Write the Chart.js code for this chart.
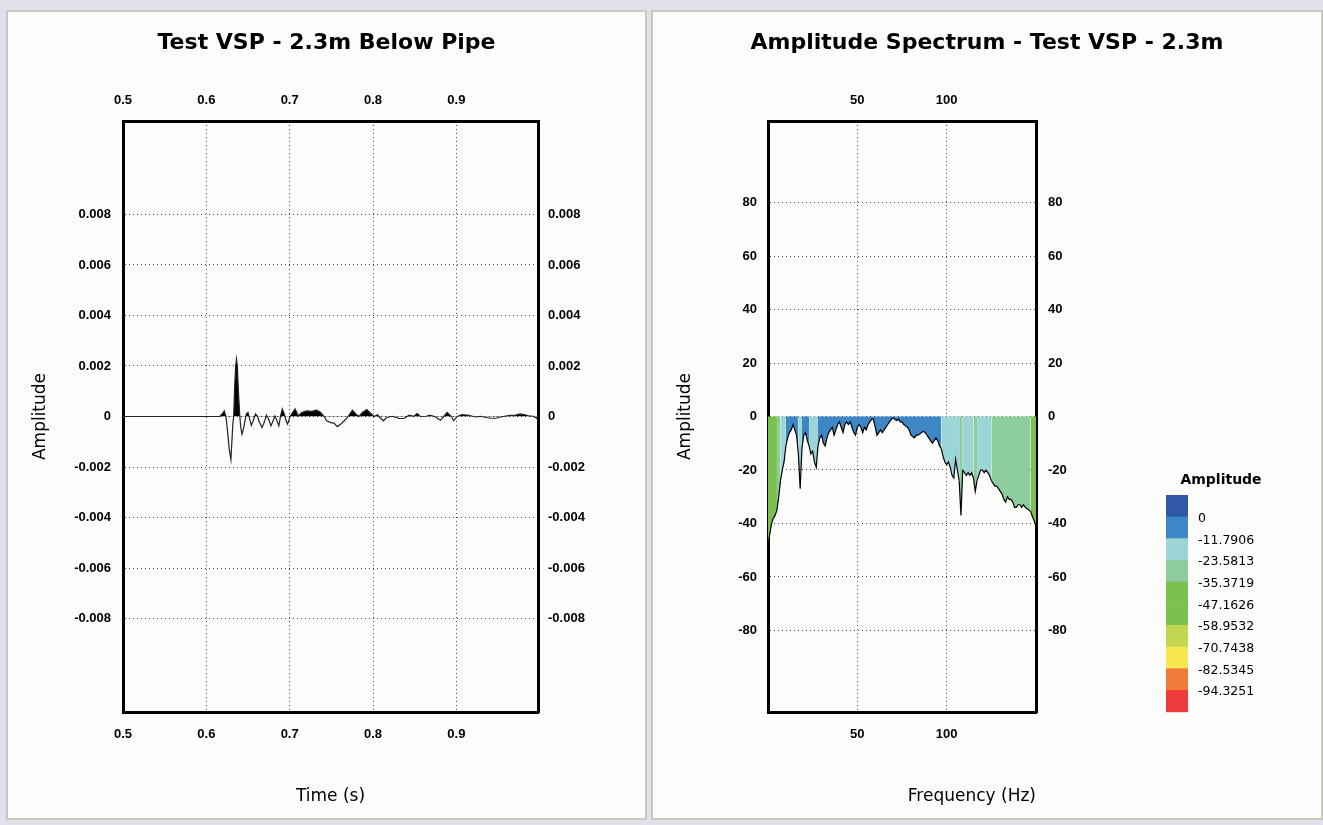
<!DOCTYPE html>
<html>
<head>
<meta charset="utf-8">
<title>Test VSP - 2.3m</title>
<script src="https://cdn.jsdelivr.net/npm/chart.js@4.4.1/dist/chart.umd.min.js"></script>
<style>
  html, body { margin: 0; padding: 0; }
  body { width: 1323px; height: 825px; background: #dfe0ec; position: relative; overflow: hidden; }
  .panel { position: absolute; top: 10px; height: 806px; background: #fcfcfa; border: 2px solid #c8c8bf; }
  #leftPanel { left: 6px; width: 637px; }
  #rightPanel { left: 651px; width: 668px; }
  .panel canvas { display: block; }
</style>
</head>
<body>
<div class="panel" id="leftPanel"><canvas id="traceChart" width="637" height="806"></canvas></div>
<div class="panel" id="rightPanel"><canvas id="specChart" width="668" height="806"></canvas></div>
<script>
// ---- trace: time (s) vs amplitude ----
const traceTime = [
  0.5, 0.616, 0.619, 0.6215, 0.6235, 0.6255, 0.6275, 0.6295, 0.6305, 0.6318,
  0.6328, 0.634, 0.6352, 0.6362, 0.6372, 0.6385, 0.64, 0.6412, 0.6428, 0.6445,
  0.6462, 0.648, 0.65, 0.652, 0.654, 0.6565, 0.659, 0.6612, 0.664, 0.6668,
  0.6694, 0.6722, 0.675, 0.6775, 0.6798, 0.6822, 0.6845, 0.687, 0.6893, 0.6912,
  0.6935, 0.6955, 0.6975, 0.7005, 0.7065, 0.7105, 0.7145, 0.7205, 0.7265, 0.7325,
  0.7373, 0.7413, 0.7445, 0.7493, 0.753, 0.7573, 0.7613, 0.7661, 0.7701, 0.7753,
  0.7793, 0.7833, 0.7873, 0.7925, 0.7973, 0.8013, 0.8053, 0.8093, 0.8125, 0.8165,
  0.8233, 0.8313, 0.8373, 0.8433, 0.849, 0.8529, 0.8569, 0.864, 0.8681, 0.874,
  0.8809, 0.8849, 0.8889, 0.894, 0.8969, 0.9009, 0.9069, 0.9149, 0.9229, 0.9293,
  0.9353, 0.9413, 0.9473, 0.9533, 0.9645, 0.9705, 0.9765, 0.9825, 0.9865, 0.9925,
  0.9965, 0.998
];
const traceAmp = [
  0, 0, 0.0001, 0.00022, 0, -0.0006, -0.0013, -0.0017, -0.0011, -0.0003,
  0, 0.0012, 0.002, 0.00228, 0.002, 0.001, 0.0001, -0.0004, -0.0007, -0.0005,
  -0.0002, 0.0001, 0.00016, -0.0001, -0.00035, -0.00015, 0.0001, 0.00002, -0.00025, -0.00044,
  -0.00024, 0.00005, -0.00013, -0.00037, -0.0002, 0.00002, -0.00015, -0.00037, 0.00005, 0.0003,
  0.0001, -0.00015, -0.0003, 0, 0.0003, 0.00002, 0.00016, 0.00022, 0.0002, 0.00025,
  0.00016, 0, -0.00017, -0.00024, -0.00026, -0.0004, -0.0003, -0.00015, 0, 0.00025,
  0.0001, 0, 0.00016, 0.00028, 0.00012, 0, 0.00007, -0.00007, -0.00017, -0.00004,
  0.00001, -0.00008, -0.00008, 0.00005, 0.00001, 0.00012, 0, 0.00001, 0.00005, 0,
  -0.00015, 0, 0.00016, 0, -0.00017, 0, 0.00007, 0.00005, -0.00002, 0.00001,
  -0.00004, -0.00007, -0.00007, -0.00002, 0.00005, 0.00005, 0.0001, 0.00007, 0.00003, 0.00001,
  -0.00007, 0.00006
];
const timeTicks = [0.5, 0.6, 0.7, 0.8, 0.9];
const ampTicks = [-0.008, -0.006, -0.004, -0.002, 0, 0.002, 0.004, 0.006, 0.008];

// ---- spectrum: frequency (Hz) vs amplitude (dB) ----
const freqHz = [
  0, 1, 2, 3, 4, 5, 6, 7, 8, 9, 10, 11, 12, 13, 14, 15, 16, 17, 18, 19,
  20, 21, 22, 23, 24, 25, 26, 27, 28, 29, 30, 31, 32, 33, 34, 35, 36, 37, 38, 39,
  40, 41, 42, 43, 44, 45, 46, 47, 48, 49, 50, 51, 52, 53, 54, 55, 56, 57, 58, 59,
  60, 61, 62, 63, 64, 65, 66, 67, 68, 69, 70, 71, 72, 73, 74, 75, 76, 77, 78, 79,
  80, 81, 82, 83, 84, 85, 86, 87, 88, 89, 90, 91, 92, 93, 94, 95, 96, 97, 98, 99,
  100, 101, 102, 103, 104, 105, 106, 107, 108, 109, 110, 111, 112, 113, 114, 115, 116, 117, 118, 119,
  120, 121, 122, 123, 124, 125, 126, 127, 128, 129, 130, 131, 132, 133, 134, 135, 136, 137, 138, 139,
  140, 141, 142, 143, 144, 145, 146, 147, 148, 149, 150
];
const specDb = [
  -48, -44, -40, -38, -37, -35, -30, -24, -20, -17, -11, -8, -6, -5, -3, -5, -7, -14, -27, -12,
  -7, -6, -9, -11, -14, -13, -17, -19, -11, -8, -7, -10, -11, -8, -6, -5, -4, -7, -5, -3,
  -2, -4, -6, -3, -2, -3, -2, -4, -6, -7, -4, -3, -4, -6, -4, -5, -3, -2, -1, -1,
  -4, -7, -6, -5, -6, -5, -4, -3, -2, -1, -0.5, -1, -1.5, -1, -2, -2, -3, -3.5, -4, -5,
  -7, -7.5, -8, -7, -7, -6.5, -6, -5.5, -6, -7, -8, -9, -10, -9, -8, -9, -11, -12, -15, -17,
  -18, -17, -19, -22, -23, -16, -20, -24, -37, -20, -21, -22, -21, -22, -21, -23, -28, -24, -22, -20,
  -20, -21, -20, -21, -22, -24, -25, -26, -26, -27, -28, -29, -31, -32, -30, -31, -31, -32, -34, -34,
  -33, -33, -34, -33, -34, -34.5, -35, -35.5, -37.5, -39, -41
];
const freqTicks = [50, 100];
const dbTicks = [-80, -60, -40, -20, 0, 20, 40, 60, 80];

// colour classes of the amplitude legend
const bandLabels = ['0', '-11.7906', '-23.5813', '-35.3719', '-47.1626', '-58.9532', '-70.7438', '-82.5345', '-94.3251'];
const bandEdges = [0, -11.7906, -23.5813, -35.3719, -47.1626, -58.9532, -70.7438, -82.5345, -94.3251];
const bandColors = ['#2f59a7', '#3d87c7', '#9bd5d5', '#8dcd9d', '#7cc14f', '#7cc14f', '#c3d651', '#f7e74f', '#f07a38', '#ee3a3a'];

const FONT = '"Liberation Sans", Arial, sans-serif';
const WIDE = '"DejaVu Sans", sans-serif';
const tickFont = { family: FONT, size: 13, weight: 'bold' };

function bandColor(v) {
  for (let i = 0; i < bandEdges.length; i++) {
    if (v > bandEdges[i]) return bandColors[i];
  }
  return bandColors[bandColors.length - 1];
}

// fixes the thickness of an axis box so the plot frame lands where the original had it
function fixSize(prop, px) {
  return s => {
    s[prop] = px;
    s.paddingLeft = s.paddingRight = s.paddingTop = s.paddingBottom = 0;
  };
}

function useTicks(list) {
  return s => { s.ticks = list.map(v => ({ value: v })); };
}

function axis(pos, min, max, list, fmt, size, grid, pad) {
  const horiz = pos === 'top' || pos === 'bottom';
  return {
    type: 'linear',
    position: pos,
    min: min,
    max: max,
    afterBuildTicks: useTicks(list),
    afterFit: fixSize(horiz ? 'height' : 'width', size),
    grid: { display: grid, color: '#444', lineWidth: 1, drawTicks: false },
    border: { display: true, color: '#000', width: 3, dash: [1, 3] },
    ticks: { color: '#000', font: tickFont, padding: pad, callback: fmt, maxRotation: 0, autoSkip: false }
  };
}

const fmtAmp = v => Math.abs(v) < 1e-9 ? '0' : v.toFixed(3);
const fmtTime = v => v.toFixed(1);
const fmtInt = v => String(Math.round(v));

function yTitle(text) {
  return { display: true, text: text, color: '#000', font: { family: WIDE, size: 17 }, padding: { top: 22, bottom: 0 } };
}

function xTitle(text, align) {
  return { display: true, text: text, align: align, color: '#000', font: { family: WIDE, size: 17 }, padding: { top: 0, bottom: 11 } };
}

function plugins(title) {
  return {
    legend: { display: false },
    tooltip: { enabled: false },
    title: { display: true, text: title, color: '#000', font: { family: WIDE, size: 22, weight: 'bold' }, padding: { top: 18, bottom: 0 } }
  };
}

// colour bar legend at the right of the spectrum
const bandLegend = {
  id: 'bandLegend',
  afterDraw(chart) {
    const ctx = chart.ctx;
    const x0 = 513, y0 = 483, w = 22, h = 21.67;
    ctx.save();
    ctx.fillStyle = '#000';
    ctx.textAlign = 'center';
    ctx.textBaseline = 'middle';
    ctx.font = 'bold 14px ' + WIDE;
    ctx.fillText('Amplitude', 568, 468);
    bandColors.forEach((c, i) => {
      ctx.fillStyle = c;
      ctx.fillRect(x0, y0 + i * h, w, h + 0.5);
    });
    ctx.fillStyle = '#000';
    ctx.textAlign = 'left';
    ctx.font = '12.5px ' + WIDE;
    bandLabels.forEach((t, i) => ctx.fillText(t, x0 + 32, y0 + (i + 1) * h + 2));
    ctx.restore();
  }
};

Chart.defaults.animation = false;

new Chart(document.getElementById('traceChart'), {
  type: 'line',
  data: {
    datasets: [{
      data: traceTime.map((t, i) => ({ x: t, y: traceAmp[i] })),
      borderColor: '#222',
      borderWidth: 1.2,
      pointRadius: 0,
      tension: 0,
      fill: { target: 'origin', above: '#000', below: 'rgba(0,0,0,0)' }
    }]
  },
  options: {
    responsive: false,
    layout: { padding: 0 },
    plugins: plugins('Test VSP - 2.3m Below Pipe'),
    scales: {
      x: Object.assign(axis('bottom', 0.5, 0.998, timeTicks, fmtTime, 106, true, 15), { title: xTitle('Time (s)', 'center') }),
      x2: axis('top', 0.5, 0.998, timeTicks, fmtTime, 64.6, false, 13),
      y: Object.assign(axis('left', -0.0117, 0.0117, ampTicks, fmtAmp, 115, true, 12), { title: yTitle('Amplitude') }),
      y2: axis('right', -0.0117, 0.0117, ampTicks, fmtAmp, 107, false, 10)
    }
  }
});

new Chart(document.getElementById('specChart'), {
  type: 'line',
  data: {
    datasets: [{
      data: freqHz.map((f, i) => ({ x: f, y: specDb[i] })),
      borderColor: '#000',
      borderWidth: 1.2,
      pointRadius: 0,
      tension: 0,
      fill: 'origin',
      backgroundColor: bandColors[1],
      segment: {
        backgroundColor: c => bandColor((c.p0.parsed.y + c.p1.parsed.y) / 2)
      }
    }]
  },
  options: {
    responsive: false,
    layout: { padding: 0 },
    plugins: plugins('Amplitude Spectrum - Test VSP - 2.3m'),
    scales: {
      x: Object.assign(axis('bottom', 0, 150, freqTicks, fmtInt, 106, true, 15), { title: xTitle('Frequency (Hz)', 'end') }),
      x2: axis('top', 0, 150, freqTicks, fmtInt, 64.6, false, 13),
      y: Object.assign(axis('left', -110.5, 110.5, dbTicks, fmtInt, 115, true, 11), { title: yTitle('Amplitude') }),
      y2: axis('right', -110.5, 110.5, dbTicks, fmtInt, 285, false, 12)
    }
  },
  plugins: [bandLegend]
});
</script>
</body>
</html>
